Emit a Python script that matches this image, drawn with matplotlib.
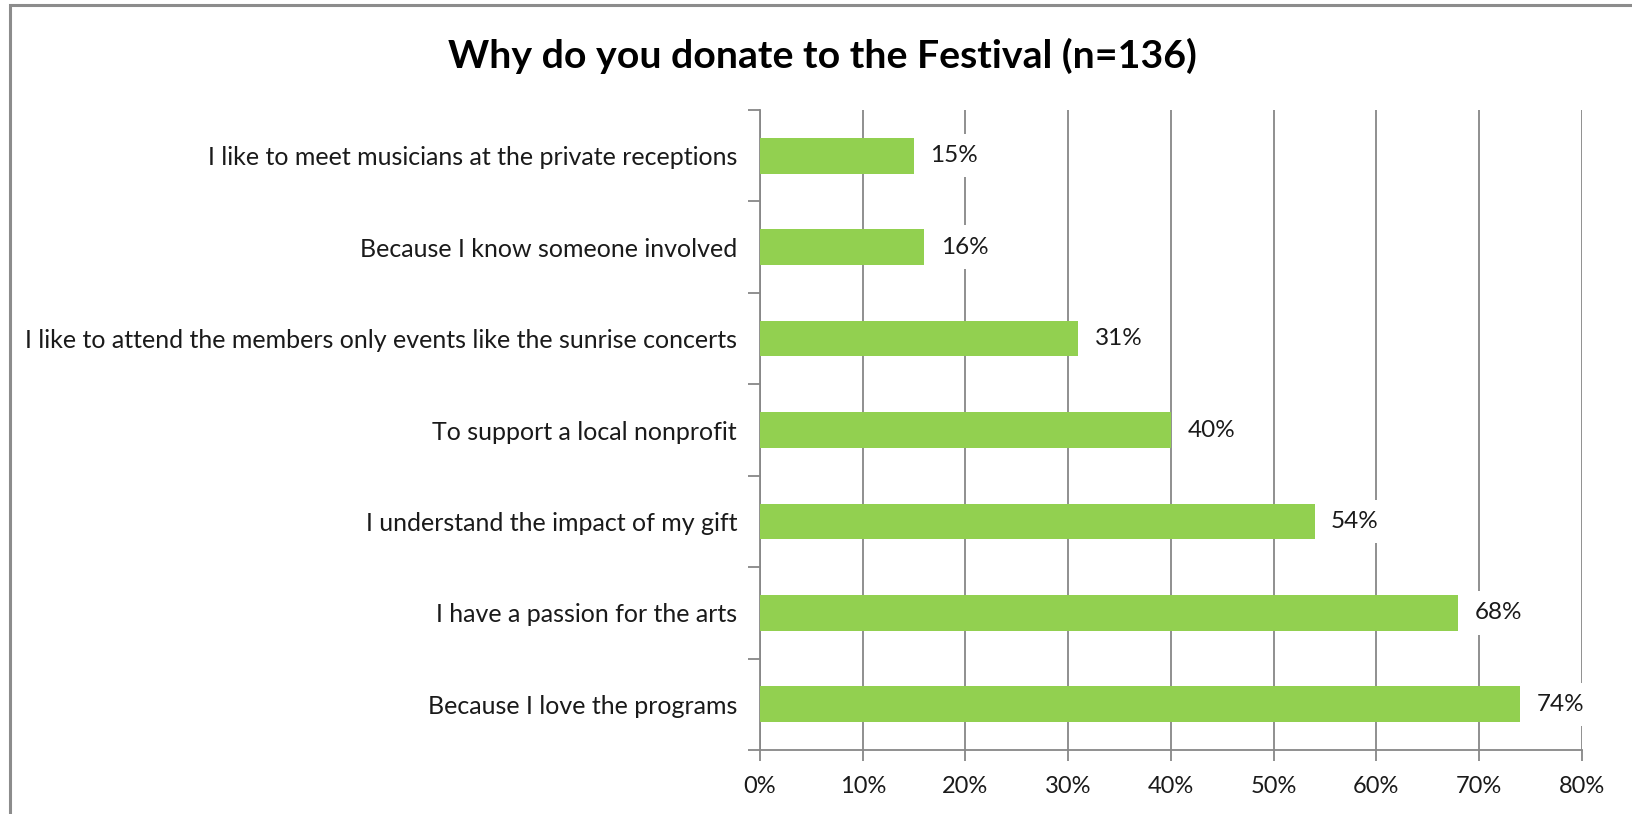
import matplotlib
matplotlib.use("Agg")
import matplotlib.pyplot as plt
from matplotlib.patches import Rectangle

# survey answers, listed top to bottom as they appear on the chart
reasons = [
    "I like to meet musicians at the private receptions",
    "Because I know someone involved",
    "I like to attend the members only events like the sunrise concerts",
    "To support a local nonprofit",
    "I understand the impact of my gift",
    "I have a passion for the arts",
    "Because I love the programs",
]
shares = [15, 16, 31, 40, 54, 68, 74]
x_ticks = [0, 10, 20, 30, 40, 50, 60, 70, 80]

bar_color = "#92D050"
grid_color = "#878787"
font = "Lato"

fig = plt.figure(figsize=(16.32, 8.14), dpi=100)
fig.patch.set_facecolor("white")

# outer chart frame
fig.add_artist(Rectangle((10 / 1632, -0.05), 1.1, 1.05 - 5 / 814,
                         transform=fig.transFigure, fill=False,
                         edgecolor="#8c8c8c", linewidth=2.2))

ax = fig.add_axes([760 / 1632, 64 / 814, 821.7 / 1632, 640 / 814])

n = len(reasons)
ypos = list(range(n - 1, -1, -1))
ax.barh(ypos, shares, height=0.39, color=bar_color, zorder=3)

for y, v in zip(ypos, shares):
    ax.text(v + 1.6, y, f"{v}%", va="center", ha="left", fontsize=17.5,
            family=font, color="#1a1a1a", zorder=4,
            bbox=dict(facecolor="white", edgecolor="none", pad=8))

ax.set_xlim(0, 80)
ax.set_ylim(-0.5, n - 0.5)
ax.set_xticks(x_ticks)
ax.set_xticklabels([f"{t}%" for t in x_ticks], fontsize=17, family=font,
                   color="#1a1a1a")
ax.xaxis.grid(True, color=grid_color, linewidth=1.3, zorder=0)
ax.set_axisbelow(True)

# category labels sit between boundary ticks
ax.set_yticks([i - 0.5 for i in range(n + 1)])
ax.set_yticklabels([])
ax.set_yticks(ypos, minor=True)
ax.set_yticklabels(reasons, minor=True, fontsize=18, family=font,
                   color="#1a1a1a")
ax.tick_params(axis="y", which="major", length=9, width=1.3, color=grid_color,
               direction="out")
ax.tick_params(axis="y", which="minor", length=0, pad=16.5)
ax.tick_params(axis="x", length=8, width=1.3, color=grid_color, pad=11,
               direction="out")

for side in ("top", "right"):
    ax.spines[side].set_visible(False)
for side in ("left", "bottom"):
    ax.spines[side].set_color(grid_color)
    ax.spines[side].set_linewidth(1.3)

fig.text(0.504, 1 - 56 / 814, "Why do you donate to the Festival (n=136)",
         ha="center", va="center", fontsize=28.3, fontweight="bold",
         family=font, color="black")

fig.savefig("out.png", dpi=100, facecolor="white")
